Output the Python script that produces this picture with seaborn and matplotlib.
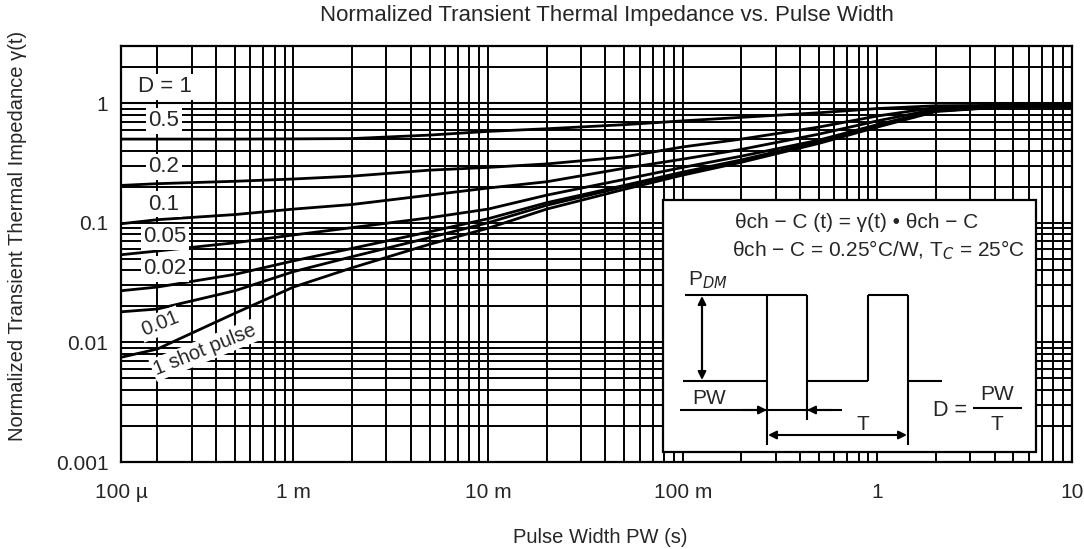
import matplotlib
matplotlib.use("Agg")
import numpy as np
import pandas as pd
import matplotlib.pyplot as plt
import seaborn as sns
from matplotlib import font_manager as fm
from matplotlib.patches import Rectangle
from matplotlib.ticker import LogLocator, NullFormatter, FixedLocator, FixedFormatter

# ---------------- data ----------------
pulse_width = [1.3e-4, 2e-4, 5e-4, 1e-3, 2e-3, 5e-3, 1e-2, 2e-2, 5e-2, 0.1, 0.2, 0.5, 1, 2, 5, 10]

z_d1     = [1.0, 1.0, 1.0, 1.0, 1.0, 1.0, 1.0, 1.0, 1.0, 1.0, 1.0, 1.0, 1.0, 1.0, 1.0, 1.0]
z_d05    = [0.50, 0.50, 0.50, 0.502, 0.505, 0.54, 0.58, 0.61, 0.66, 0.71, 0.76, 0.83, 0.90, 0.95, 0.96, 0.96]
z_d02    = [0.205, 0.212, 0.222, 0.232, 0.245, 0.275, 0.29, 0.31, 0.355, 0.43, 0.50, 0.63, 0.78, 0.92, 0.95, 0.95]
z_d01    = [0.098, 0.106, 0.117, 0.13, 0.142, 0.17, 0.195, 0.22, 0.285, 0.34, 0.41, 0.55, 0.71, 0.89, 0.95, 0.95]
z_d005   = [0.054, 0.058, 0.068, 0.079, 0.091, 0.11, 0.13, 0.17, 0.23, 0.29, 0.36, 0.49, 0.66, 0.87, 0.94, 0.94]
z_d002   = [0.027, 0.029, 0.037, 0.048, 0.061, 0.084, 0.108, 0.147, 0.205, 0.265, 0.335, 0.475, 0.645, 0.86, 0.94, 0.94]
z_d001   = [0.018, 0.019, 0.027, 0.039, 0.052, 0.075, 0.10, 0.14, 0.20, 0.26, 0.33, 0.47, 0.64, 0.86, 0.94, 0.94]
z_single = [0.0075, 0.0088, 0.0175, 0.029, 0.042, 0.066, 0.09, 0.13, 0.19, 0.25, 0.32, 0.46, 0.63, 0.85, 0.94, 0.94]

series_names = ["D = 1", "0.5", "0.2", "0.1", "0.05", "0.02", "0.01", "1 shot pulse"]
series_values = [z_d1, z_d05, z_d02, z_d01, z_d005, z_d002, z_d001, z_single]

x_tick_labels = ["100 \u00b5", "1 m", "10 m", "100 m", "1", "10"]
x_tick_values = [1.3e-4, 1e-3, 1e-2, 1e-1, 1, 10]
y_tick_labels = ["0.001", "0.01", "0.1", "1"]
y_tick_values = [0.001, 0.01, 0.1, 1]

# ---------------- style ----------------
sns.set_style("white")
names = {f.name for f in fm.fontManager.ttflist}
fam = "Liberation Sans" if "Liberation Sans" in names else "DejaVu Sans"
plt.rcParams["font.family"] = [fam, "DejaVu Sans"]

rows = []
for name, vals in zip(series_names, series_values):
    for x, z in zip(pulse_width, vals):
        rows.append({"pw": x, "z": z, "series": name})
df = pd.DataFrame(rows)

fig = plt.figure(figsize=(10.84, 5.49), dpi=100)
W, H = 1084, 549
L, R, T, B = 121, 1072, 46, 462
ax = fig.add_axes([L / W, 1 - B / H, (R - L) / W, (B - T) / H])

def axp(px, py):
    return ((px - L) / (R - L), (B - py) / (B - T))

ax.set_xscale("log")
ax.set_yscale("log")

lw_map = {n: (1.5 if n == "D = 1" else 2.0) for n in series_names}
for name in series_names:
    sub = df[df["series"] == name]
    sns.lineplot(data=sub, x="pw", y="z", ax=ax, color="black",
                 linewidth=lw_map[name], sort=False, legend=False,
                 estimator=None, zorder=3)

ax.set_xlim(1.3e-4, 10)
ax.set_ylim(0.001, 3.0)

ax.xaxis.set_major_locator(FixedLocator(x_tick_values))
ax.xaxis.set_major_formatter(FixedFormatter(x_tick_labels))
ax.yaxis.set_major_locator(FixedLocator(y_tick_values))
ax.yaxis.set_major_formatter(FixedFormatter(y_tick_labels))
ax.xaxis.set_minor_locator(LogLocator(base=10, subs=np.arange(2, 10), numticks=50))
ax.yaxis.set_minor_locator(LogLocator(base=10, subs=np.arange(2, 10), numticks=50))
ax.xaxis.set_minor_formatter(NullFormatter())
ax.yaxis.set_minor_formatter(NullFormatter())

ax.grid(True, which="both", color="black", linewidth=1.4, zorder=1)
ax.set_axisbelow(True)
ax.tick_params(axis="both", which="both", length=0)
ax.tick_params(axis="x", pad=15, labelsize=15)
ax.tick_params(axis="y", pad=9, labelsize=15)
for s in ax.spines.values():
    s.set_color("black")
    s.set_linewidth(1.6)

ax.set_xlabel("Pulse Width PW (s)", fontsize=14.5)
ax.set_ylabel("Normalized Transient Thermal Impedance \u03b3(t)", fontsize=14.5)
ax.xaxis.set_label_coords(0.504, -0.158)
ax.yaxis.set_label_coords(-0.099, 0.543)

ax.text(0.511, (B - 16) / (B - T), "Normalized Transient Thermal Impedance vs. Pulse Width",
        transform=ax.transAxes, ha="center", va="center", fontsize=16)

# ---------------- curve labels ----------------
box = dict(boxstyle="square,pad=0.1", facecolor="white", edgecolor="none")
label_pos = {"D = 1": (165, 87), "0.5": (164, 121), "0.2": (164, 167), "0.1": (164, 204),
             "0.05": (165, 237), "0.02": (165, 269)}
for name, (px, py) in label_pos.items():
    ax.text(*axp(px, py), name, transform=ax.transAxes, ha="center", va="center",
            fontsize=16, bbox=box, zorder=6)
ax.text(*axp(160, 324), "0.01", transform=ax.transAxes, ha="center", va="center",
        fontsize=14.5, rotation=22, bbox=box, zorder=6)
ax.text(*axp(205, 350), "1 shot pulse", transform=ax.transAxes, ha="center", va="center",
        fontsize=14.5, rotation=22, bbox=box, zorder=6)

# ---------------- inset schematic ----------------
x0, y0 = axp(663, 452)
x1, y1 = axp(1036, 200)
ax.add_patch(Rectangle((x0, y0), x1 - x0, y1 - y0, transform=ax.transAxes,
                       facecolor="white", edgecolor="black", linewidth=1.6, zorder=5))

def seg(p, q, lw=1.5):
    a, b = axp(*p), axp(*q)
    ax.plot([a[0], b[0]], [a[1], b[1]], transform=ax.transAxes, color="black",
            linewidth=lw, zorder=7, solid_capstyle="butt")

def arrow(p_from, p_to, style="-|>"):
    ax.annotate("", xy=axp(*p_to), xytext=axp(*p_from), xycoords="axes fraction",
                textcoords="axes fraction",
                arrowprops=dict(arrowstyle=style, color="black", lw=1.5,
                                shrinkA=0, shrinkB=0, mutation_scale=12), zorder=7)

ax.text(*axp(857, 222), "\u03b8ch \u2212 C (t) = \u03b3(t) \u2022 \u03b8ch \u2212 C", transform=ax.transAxes,
        ha="center", va="center", fontsize=15, zorder=7)
ax.text(*axp(878, 250), "\u03b8ch \u2212 C = 0.25\u00b0C/W, T$_{C}$ = 25\u00b0C", transform=ax.transAxes,
        ha="center", va="center", fontsize=15, zorder=7)
ax.text(*axp(688, 280), "P$_{DM}$", transform=ax.transAxes, ha="left", va="center",
        fontsize=15, zorder=7)

# pulse train
seg((685, 295), (807, 295))
seg((767, 295), (767, 445))
seg((807, 295), (807, 420))
seg((683, 381), (767, 381))
seg((807, 381), (868, 381))
seg((868, 381), (868, 295))
seg((868, 295), (908, 295))
seg((908, 295), (908, 445))
seg((908, 381), (942, 381))

# amplitude arrow
arrow((702, 338), (702, 296))
arrow((702, 338), (702, 380))
seg((702, 300), (702, 376))

# PW arrows
ax.text(*axp(692, 398), "PW", transform=ax.transAxes, ha="left", va="center",
        fontsize=15, zorder=7)
seg((680, 410), (842, 410))
arrow((742, 410), (767, 410))
arrow((832, 410), (807, 410))

# T arrow
arrow((838, 435), (768, 435))
arrow((838, 435), (907, 435))
ax.text(*axp(863, 424), "T", transform=ax.transAxes, ha="center", va="center",
        fontsize=15, zorder=7)

# D = PW / T
ax.text(*axp(950, 410), "D =", transform=ax.transAxes, ha="center", va="center",
        fontsize=15.5, zorder=7)
seg((973, 408), (1022, 408))
ax.text(*axp(997, 394), "PW", transform=ax.transAxes, ha="center", va="center",
        fontsize=15, zorder=7)
ax.text(*axp(997, 424), "T", transform=ax.transAxes, ha="center", va="center",
        fontsize=15, zorder=7)

fig.savefig("out.png", dpi=100)
